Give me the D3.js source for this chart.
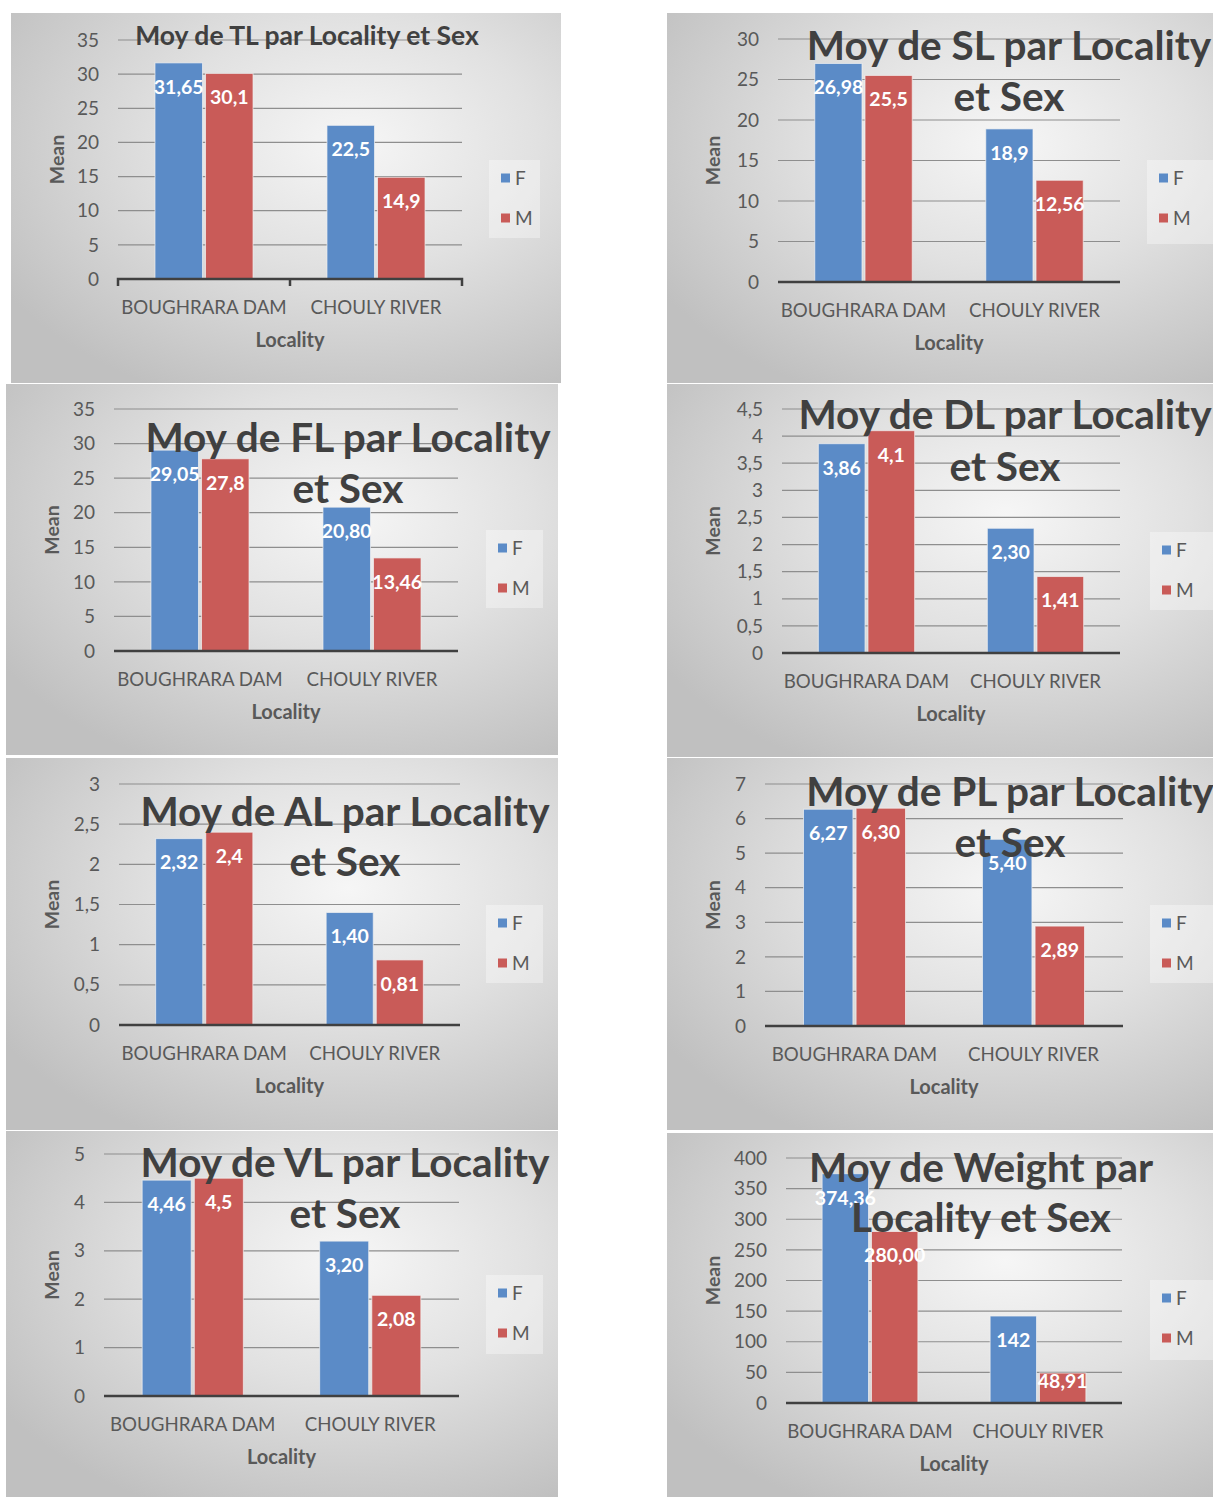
<!DOCTYPE html>
<html>
<head>
<meta charset="utf-8">
<script src="https://cdn.jsdelivr.net/npm/d3@7"></script>
<style>
html,body{margin:0;padding:0;background:#fff;}
svg{display:block;}
text{font-family:Lato,"Open Sans",sans-serif;}
</style>
</head>
<body>
<svg id="chart" width="1213" height="1497"></svg>
<script>
// ---------------- DATA ----------------
const categories = ["BOUGHRARA DAM", "CHOULY RIVER"];
const seriesNames = ["F", "M"];
const measures = ["TL", "SL", "FL", "DL", "AL", "PL", "VL", "Weight"];

const tlF = [31.65, 22.5],  tlM = [30.1, 14.9];
const slF = [26.98, 18.9],  slM = [25.5, 12.56];
const flF = [29.05, 20.80], flM = [27.8, 13.46];
const dlF = [3.86, 2.30],   dlM = [4.1, 1.41];
const alF = [2.32, 1.40],   alM = [2.4, 0.81];
const plF = [6.27, 5.40],   plM = [6.30, 2.89];
const vlF = [4.46, 3.20],   vlM = [4.5, 2.08];
const wtF = [374.36, 142],  wtM = [280.00, 48.91];

const tlLabF = ["31,65", "22,5"],  tlLabM = ["30,1", "14,9"];
const slLabF = ["26,98", "18,9"],  slLabM = ["25,5", "12,56"];
const flLabF = ["29,05", "20,80"], flLabM = ["27,8", "13,46"];
const dlLabF = ["3,86", "2,30"],   dlLabM = ["4,1", "1,41"];
const alLabF = ["2,32", "1,40"],   alLabM = ["2,4", "0,81"];
const plLabF = ["6,27", "5,40"],   plLabM = ["6,30", "2,89"];
const vlLabF = ["4,46", "3,20"],   vlLabM = ["4,5", "2,08"];
const wtLabF = ["374,36", "142"],  wtLabM = ["280,00", "48,91"];

const yMaxes = [35, 30, 35, 4.5, 3, 7, 5, 400];
const ySteps = [5, 5, 5, 0.5, 0.5, 1, 1, 50];

const titles = [
  ["Moy de TL par Locality et Sex"],
  ["Moy de SL par Locality", "et Sex"],
  ["Moy de FL par Locality", "et Sex"],
  ["Moy de DL par Locality", "et Sex"],
  ["Moy de AL par Locality", "et Sex"],
  ["Moy de PL par Locality", "et Sex"],
  ["Moy de VL par Locality", "et Sex"],
  ["Moy de Weight par", "Locality et Sex"]
];
const yTitle = "Mean";
const xTitle = "Locality";

const valuesF = [tlF, slF, flF, dlF, alF, plF, vlF, wtF];
const valuesM = [tlM, slM, flM, dlM, alM, plM, vlM, wtM];
const labelsF = [tlLabF, slLabF, flLabF, dlLabF, alLabF, plLabF, vlLabF, wtLabF];
const labelsM = [tlLabM, slLabM, flLabM, dlLabM, alLabM, plLabM, vlLabM, wtLabM];

// ---------------- LAYOUT ----------------
// bg: [x0,y0,x1,y1], plot: [x0,x1,yTop,yBottom]
const layout = [
  {bg:[11,13,561,383],   plot:[118,462,40,279],    meanX:57,  title:{x:307,y:45,size:26.5,lh:0},  legend:[489,160,51,78], ticks:true},
  {bg:[667,13,1213,383], plot:[778,1120,39,282],   meanX:713, title:{x:1009,y:60,size:40.5,lh:51}, legend:[1147,160,66,84]},
  {bg:[6,384,558,755],   plot:[114,458,409,651],   meanX:52,  title:{x:348,y:452,size:40.5,lh:51}, legend:[486,530,57,78]},
  {bg:[667,384,1213,757],plot:[782,1120,409,653],  meanX:713, title:{x:1005,y:429,size:40.5,lh:52},legend:[1150,532,63,78]},
  {bg:[6,758,558,1130],  plot:[119,460,784,1025],  meanX:52,  title:{x:345,y:826,size:40.5,lh:50}, legend:[486,905,57,78]},
  {bg:[667,758,1213,1130],plot:[765,1123,784,1026],meanX:713, title:{x:1010,y:806,size:40.5,lh:51},legend:[1150,905,63,78]},
  {bg:[6,1131,558,1497], plot:[104,459,1154,1396], meanX:52,  title:{x:345,y:1177,size:40.5,lh:51},legend:[486,1275,57,79]},
  {bg:[667,1133,1213,1497],plot:[786,1122,1158,1403],meanX:713,title:{x:981,y:1182,size:40.5,lh:50},legend:[1150,1280,63,80]}
];

const colors = {F:"#5b8bc7", M:"#c95b58"};
const fmt = v => String(v).replace(".", ",");

const svg = d3.select("#chart");
const defs = svg.append("defs");
const grad = defs.append("radialGradient").attr("id","bgGrad")
  .attr("cx","0.62").attr("cy","0.35").attr("r","0.75");
grad.append("stop").attr("offset","0").attr("stop-color","#f6f6f6");
grad.append("stop").attr("offset","0.45").attr("stop-color","#e1e1e1");
grad.append("stop").attr("offset","1").attr("stop-color","#c0c0c0");

measures.forEach((m, i) => {
  const L = layout[i];
  const g = svg.append("g").attr("class","panel panel-"+m);
  const [bx0,by0,bx1,by1] = L.bg;
  g.append("rect").attr("x",bx0).attr("y",by0).attr("width",bx1-bx0).attr("height",by1-by0)
    .attr("fill","url(#bgGrad)");

  const [px0,px1,py0,py1] = L.plot;
  const y = d3.scaleLinear().domain([0, yMaxes[i]]).range([py1, py0]);
  const x0 = d3.scaleBand().domain(categories).range([px0,px1]).paddingInner(0.43).paddingOuter(0.215);
  const x1 = d3.scaleBand().domain(seriesNames).range([0, x0.bandwidth()]).paddingInner(0.06);

  const tickVals = d3.range(0, yMaxes[i] + ySteps[i]/2, ySteps[i]).map(v => +v.toFixed(2));

  // gridlines
  g.append("g").selectAll("line").data(tickVals.filter(v => v > 0)).join("line")
    .attr("x1",px0).attr("x2",px1).attr("y1",d=>y(d)).attr("y2",d=>y(d))
    .attr("stroke","#8e8e8e").attr("stroke-width",1.2);

  // y tick labels
  g.append("g").selectAll("text").data(tickVals).join("text")
    .attr("x", px0 - 19).attr("y", d => y(d)).attr("dy","0.35em")
    .attr("text-anchor","end").attr("font-size",19).attr("fill","#595959")
    .text(d => fmt(d));

  // bars
  const data = [];
  categories.forEach((c, ci) => {
    data.push({cat:c, s:"F", v:valuesF[i][ci], lab:labelsF[i][ci]});
    data.push({cat:c, s:"M", v:valuesM[i][ci], lab:labelsM[i][ci]});
  });
  g.append("g").selectAll("rect").data(data).join("rect")
    .attr("x", d => x0(d.cat) + x1(d.s)).attr("width", x1.bandwidth())
    .attr("y", d => y(d.v)).attr("height", d => y(0) - y(d.v))
    .attr("fill", d => colors[d.s]).attr("stroke","#f2f2f2").attr("stroke-opacity",0.7).attr("stroke-width",1);

  // axis line
  const ax = d3.axisBottom(x0).tickSize(L.ticks ? 7 : 0).tickFormat("");
  const axG = g.append("g").attr("transform",`translate(0,${y(0)})`).call(ax);
  axG.select(".domain").attr("stroke","#404040").attr("stroke-width",2.5)
    .attr("d", L.ticks ? `M${px0},7V0H${px1}V7` : `M${px0},0H${px1}`);
  if (L.ticks) {
    axG.selectAll(".tick line").attr("stroke","#404040").attr("stroke-width",2.5)
      .attr("transform", () => `translate(${x0.step()/2},0)`);
    axG.selectAll(".tick").filter((d,k)=>k>0).remove();
  } else {
    axG.selectAll(".tick line").remove();
  }

  // category labels
  g.append("g").selectAll("text").data(categories).join("text")
    .attr("x", d => x0(d) + x0.bandwidth()/2).attr("y", y(0) + 28).attr("dy","0.35em")
    .attr("text-anchor","middle").attr("font-size",18.7).attr("fill","#595959")
    .text(d => d);

  // axis titles
  g.append("text").attr("x", (px0+px1)/2).attr("y", y(0) + 61).attr("dy","0.35em")
    .attr("text-anchor","middle").attr("font-size",20).attr("font-weight","bold").attr("fill","#595959")
    .text(xTitle);
  g.append("text").attr("transform",`translate(${L.meanX},${(py0+py1)/2}) rotate(-90)`)
    .attr("dy","0.35em").attr("text-anchor","middle").attr("font-size",19.5).attr("font-weight","bold")
    .attr("fill","#595959").text(yTitle);

  // data labels
  g.append("g").selectAll("text").data(data).join("text")
    .attr("x", d => x0(d.cat) + x1(d.s) + x1.bandwidth()/2)
    .attr("y", d => { const h = y(0) - y(d.v); return y(d.v) + Math.min(24, h/2 - 7); })
    .attr("dy","0.35em").attr("text-anchor","middle").attr("font-size",19.5).attr("font-weight","bold")
    .attr("fill","#ffffff").text(d => d.lab);

  // legend
  const [lx,ly,lw,lh] = L.legend;
  const lg = g.append("g");
  lg.append("rect").attr("x",lx).attr("y",ly).attr("width",lw).attr("height",lh)
    .attr("fill","#ffffff").attr("fill-opacity",0.35);
  seriesNames.forEach((s, k) => {
    const cy = ly + 18 + k*40;
    lg.append("rect").attr("x",lx+12).attr("y",cy-4.5).attr("width",9).attr("height",9).attr("fill",colors[s]);
    lg.append("text").attr("x",lx+26).attr("y",cy).attr("dy","0.35em").attr("font-size",19)
      .attr("fill","#595959").text(s);
  });

  // title
  const t = L.title;
  titles[i].forEach((line, k) => {
    g.append("text").attr("x", t.x).attr("y", t.y + k*t.lh).attr("text-anchor","middle")
      .attr("font-size", t.size).attr("font-weight","bold").attr("fill","#404040").text(line);
  });
});
</script>
</body>
</html>
